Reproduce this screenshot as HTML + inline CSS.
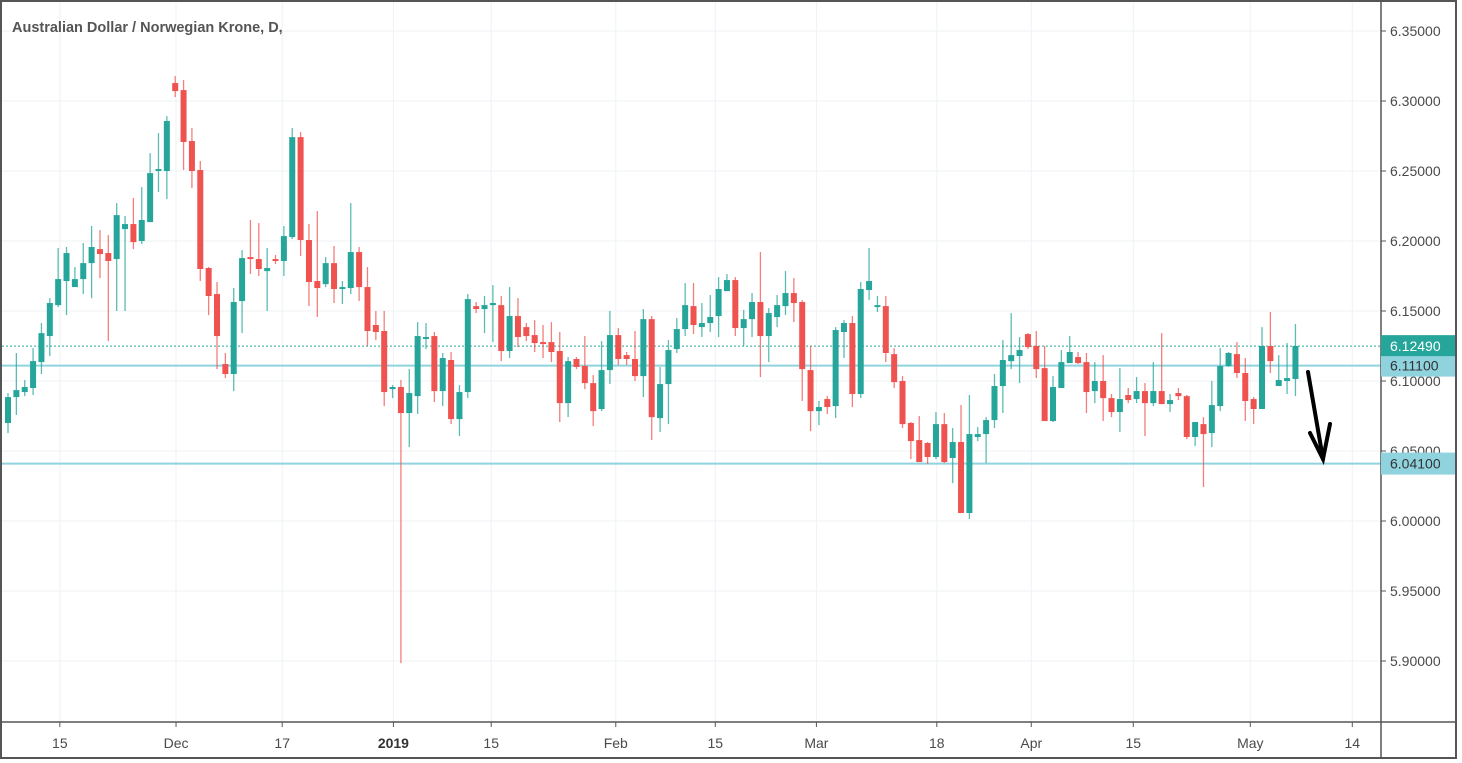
<!DOCTYPE html>
<html><head><meta charset="utf-8"><style>
html,body{margin:0;padding:0;background:#fff;}
svg{display:block;font-family:"Liberation Sans",sans-serif;}
</style></head><body>
<svg id="chart" width="1462" height="763" viewBox="0 0 1462 763" xmlns="http://www.w3.org/2000/svg">
<rect x="0" y="0" width="1462" height="763" fill="#fff"/>
<g id="grid"></g>
<g id="hlines"></g>
<g id="candles"></g>
<g id="axes"></g>
<text x="12" y="32" font-size="14.5" font-weight="bold" fill="#555">Australian Dollar / Norwegian Krone, D,</text>
<g stroke="#000" stroke-width="4" stroke-linecap="round" fill="none">
<line x1="1308" y1="372" x2="1323" y2="459"/>
<polyline points="1310,433 1323,459 1330,424"/>
</g>
<rect x="1" y="1" width="1455" height="757" fill="none" stroke="#555" stroke-width="2"/>
</svg>
<script>
const opens=[6.0700,6.0885,6.0921,6.0950,6.1135,6.1321,6.1542,6.1714,6.1671,6.1728,6.1842,6.1942,6.1914,6.1871,6.2085,6.2121,6.2000,6.2135,6.2500,6.2500,6.3128,6.3078,6.2714,6.2507,6.1807,6.1621,6.1121,6.1050,6.1571,6.1885,6.1871,6.1785,6.1871,6.1857,6.2028,6.2742,6.2007,6.1714,6.1692,6.1842,6.1657,6.1664,6.1921,6.1671,6.1400,6.1357,6.0942,6.0957,6.0771,6.0892,6.1300,6.1321,6.0928,6.1150,6.0728,6.0921,6.1535,6.1514,6.1542,6.1542,6.1214,6.1464,6.1385,6.1328,6.1278,6.1278,6.1214,6.0842,6.1157,6.1107,6.0985,6.0800,6.1078,6.1328,6.1185,6.1157,6.1035,6.1442,6.0735,6.0978,6.1228,6.1371,6.1535,6.1385,6.1414,6.1464,6.1642,6.1721,6.1378,6.1442,6.1564,6.1321,6.1457,6.1535,6.1628,6.1564,6.1078,6.0785,6.0871,6.0821,6.1350,6.1414,6.0907,6.1650,6.1528,6.1535,6.1192,6.1000,6.0700,6.0578,6.0557,6.0457,6.0692,6.0450,6.0564,6.0057,6.0600,6.0621,6.0721,6.0964,6.1142,6.1178,6.1335,6.1250,6.1092,6.0714,6.0950,6.1128,6.1171,6.1135,6.0928,6.1000,6.0878,6.0778,6.0900,6.0871,6.0928,6.0842,6.0928,6.0835,6.0914,6.0892,6.0600,6.0692,6.0628,6.0821,6.1107,6.1192,6.1057,6.0871,6.0800,6.1250,6.0964,6.1000,6.1014];
const highs=[6.0914,6.1200,6.1007,6.1235,6.1414,6.1592,6.1950,6.1957,6.1814,6.1985,6.2107,6.2078,6.2042,6.2271,6.2178,6.2307,6.2385,6.2628,6.2771,6.2892,6.3178,6.3150,6.2807,6.2571,6.1814,6.1707,6.1200,6.1664,6.1935,6.2150,6.2128,6.1950,6.1900,6.2107,6.2807,6.2778,6.2121,6.2214,6.1885,6.1964,6.1714,6.2271,6.1957,6.1814,6.1500,6.1500,6.0971,6.1007,6.1085,6.1421,6.1414,6.1350,6.1200,6.1207,6.0971,6.1621,6.1564,6.1607,6.1685,6.1607,6.1671,6.1592,6.1414,6.1435,6.1400,6.1421,6.1350,6.1171,6.1171,6.1321,6.1042,6.1285,6.1500,6.1378,6.1207,6.1357,6.1514,6.1464,6.1100,6.1292,6.1450,6.1700,6.1700,6.1557,6.1614,6.1742,6.1764,6.1742,6.1507,6.1628,6.1921,6.1521,6.1614,6.1785,6.1735,6.1578,6.1250,6.0857,6.0892,6.1385,6.1435,6.1464,6.1707,6.1950,6.1607,6.1607,6.1235,6.1035,6.0707,6.0750,6.0564,6.0778,6.0771,6.0664,6.0828,6.0900,6.0671,6.0742,6.1050,6.1292,6.1485,6.1314,6.1342,6.1357,6.1250,6.1035,6.1221,6.1321,6.1207,6.1200,6.1135,6.1185,6.0907,6.1092,6.0950,6.1028,6.0985,6.1135,6.1342,6.0907,6.0950,6.0900,6.0707,6.0742,6.1000,6.1235,6.1207,6.1278,6.1164,6.0885,6.1385,6.1493,6.1185,6.1271,6.1407];
const lows=[6.0628,6.0757,6.0892,6.0900,6.1050,6.1178,6.1528,6.1471,6.1671,6.1621,6.1592,6.1735,6.1285,6.1500,6.1500,6.1942,6.1978,6.2135,6.2350,6.2300,6.3028,6.2507,6.2378,6.1714,6.1471,6.1085,6.1021,6.0928,6.1342,6.1764,6.1750,6.1500,6.1835,6.1750,6.2014,6.1892,6.1535,6.1457,6.1671,6.1557,6.1550,6.1621,6.1571,6.1250,6.1292,6.0821,6.0878,5.8985,6.0528,6.0764,6.1228,6.0850,6.0821,6.0692,6.0607,6.0878,6.1485,6.1342,6.1278,6.1142,6.1164,6.1242,6.1285,6.1207,6.1164,6.1135,6.0707,6.0742,6.1085,6.0942,6.0678,6.0785,6.0978,6.1114,6.1114,6.1000,6.0885,6.0578,6.0635,6.0692,6.1200,6.1321,6.1335,6.1314,6.1350,6.1314,6.1642,6.1321,6.1250,6.1314,6.1028,6.1135,6.1385,6.1471,6.1421,6.0857,6.0642,6.0685,6.0764,6.0735,6.1164,6.0814,6.0878,6.1578,6.1493,6.1135,6.0950,6.0664,6.0442,6.0421,6.0407,6.0442,6.0414,6.0271,6.0057,6.0014,6.0571,6.0414,6.0664,6.0771,6.1085,6.0985,6.1228,6.1021,6.0714,6.0707,6.0950,6.1128,6.1121,6.0771,6.0842,6.0714,6.0742,6.0635,6.0842,6.0842,6.0607,6.0821,6.0835,6.0778,6.0864,6.0585,6.0535,6.0242,6.0528,6.0785,6.1100,6.1021,6.0714,6.0692,6.0800,6.1057,6.0964,6.0907,6.0892];
const closes=[6.0885,6.0935,6.0957,6.1142,6.1342,6.1557,6.1728,6.1914,6.1728,6.1842,6.1957,6.1907,6.1857,6.2185,6.2121,6.1992,6.2150,6.2485,6.2514,6.2857,6.3071,6.2707,6.2500,6.1800,6.1607,6.1321,6.1050,6.1564,6.1878,6.1871,6.1800,6.1807,6.1857,6.2035,6.2742,6.2007,6.1707,6.1664,6.1842,6.1657,6.1671,6.1921,6.1671,6.1357,6.1350,6.0921,6.0957,6.0771,6.0914,6.1321,6.1314,6.0928,6.1164,6.0728,6.0921,6.1585,6.1514,6.1542,6.1557,6.1214,6.1464,6.1314,6.1321,6.1271,6.1264,6.1207,6.0842,6.1142,6.1100,6.0985,6.0785,6.1078,6.1328,6.1157,6.1157,6.1035,6.1442,6.0742,6.0978,6.1221,6.1371,6.1542,6.1400,6.1414,6.1457,6.1657,6.1721,6.1378,6.1442,6.1564,6.1321,6.1485,6.1542,6.1628,6.1557,6.1085,6.0785,6.0814,6.0814,6.1364,6.1414,6.0907,6.1657,6.1714,6.1542,6.1200,6.0992,6.0692,6.0571,6.0421,6.0457,6.0692,6.0421,6.0564,6.0057,6.0621,6.0621,6.0721,6.0964,6.1150,6.1185,6.1221,6.1242,6.1085,6.0714,6.0957,6.1135,6.1207,6.1128,6.0921,6.1000,6.0878,6.0778,6.0871,6.0864,6.0928,6.0842,6.0928,6.0835,6.0864,6.0892,6.0600,6.0707,6.0621,6.0828,6.1107,6.1200,6.1057,6.0857,6.0800,6.1250,6.1142,6.1007,6.1021,6.1250];
const priceTicks=[6.35,6.30,6.25,6.20,6.15,6.10,6.05,6.00,5.95,5.90];
const timeLabels=["15","Dec","17","2019","15","Feb","15","Mar","18","Apr","15","May","14"];
const timeLabelIdx=[6.2,20.1,32.8,46.1,57.8,72.7,84.6,96.7,111.1,122.4,134.6,148.6,160.8];
const hLevels=[6.111,6.041];
const lastPrice=6.1249;

const NS="http://www.w3.org/2000/svg";
const PLOT_R=1381, AXIS_B=722;
function yS(v){return 31+(6.35-v)*1400;}
function xS(i){return 8+i*8.36;}
function mk(tag,attrs,parent){const e=document.createElementNS(NS,tag);for(const k in attrs)e.setAttribute(k,attrs[k]);parent.appendChild(e);return e;}

const grid=document.getElementById('grid');
const axes=document.getElementById('axes');
const hl=document.getElementById('hlines');
const cg=document.getElementById('candles');

priceTicks.forEach(p=>{
  const y=yS(p);
  const g=mk('line',{x1:2,x2:PLOT_R,y1:y,y2:y,stroke:'#eef2f6','stroke-width':1},grid);
  
  
  const t=mk('line',{x1:PLOT_R,x2:PLOT_R+5,y1:y,y2:y,stroke:'#555','stroke-width':1},axes);
  
  
  const tx=mk('text',{x:1390,y:y+5,'font-size':14,fill:'#4a4a4a'},axes);
  tx.textContent=p.toFixed(5);
  
  
});
timeLabels.forEach((lab,k)=>{
  const x=xS(timeLabelIdx[k]);
  const g=mk('line',{x1:x,x2:x,y1:2,y2:AXIS_B,stroke:'#eef2f6','stroke-width':1},grid);
  
  
  const t=mk('line',{x1:x,x2:x,y1:AXIS_B,y2:AXIS_B+5,stroke:'#555','stroke-width':1},axes);
  
  
  const tx=mk('text',{x:x,y:748,'font-size':14,fill:lab==='2019'?'#333':'#4a4a4a','font-weight':lab==='2019'?'bold':'normal','text-anchor':'middle'},axes);
  tx.textContent=lab;
  
  
});
const ax1=mk('line',{x1:PLOT_R,x2:PLOT_R,y1:2,y2:758,stroke:'#555','stroke-width':1.5},axes);


const ax2=mk('line',{x1:2,x2:1456,y1:AXIS_B,y2:AXIS_B,stroke:'#555','stroke-width':1.5},axes);



// horizontal user lines
hLevels.forEach(v=>{
  const y=yS(v);
  const l=mk('line',{x1:2,x2:PLOT_R,y1:y,y2:y,stroke:'#8fd3df','stroke-width':2},hl);
  
  
  const r=mk('rect',{x:PLOT_R,y:y-11,width:75,height:22,fill:'#8fd3df'},axes);
  
  
  const t=mk('text',{x:1390,y:y+5,'font-size':14,fill:'#333'},axes);
  t.textContent=v.toFixed(5);
  
  
});
{
  const y=yS(lastPrice);
  const l=mk('line',{x1:2,x2:PLOT_R,y1:y,y2:y,stroke:'#26a69a','stroke-width':1,'stroke-dasharray':'2,2'},hl);
  
  
  const r=mk('rect',{x:PLOT_R,y:y-11,width:75,height:21,fill:'#26a69a'},axes);
  
  
  const t=mk('text',{x:1390,y:y+5,'font-size':14,fill:'#fff'},axes);
  t.textContent=lastPrice.toFixed(5);
  
  
}

// candles
opens.forEach((o,i)=>{
  const c=closes[i],h=highs[i],l=lows[i];
  const col=c>=o?'#26a69a':'#ef5350';
  const x=xS(i);
  const g=mk('g',{},cg);
  
  
  mk('line',{x1:x,x2:x,y1:yS(h),y2:yS(l),stroke:col,'stroke-width':1.3,'stroke-opacity':0.75},g);
  const top=yS(Math.max(o,c)),bot=yS(Math.min(o,c));
  mk('rect',{x:x-3,y:top,width:6,height:Math.max(1.5,bot-top),fill:col},g);
});
</script>
</body></html>
